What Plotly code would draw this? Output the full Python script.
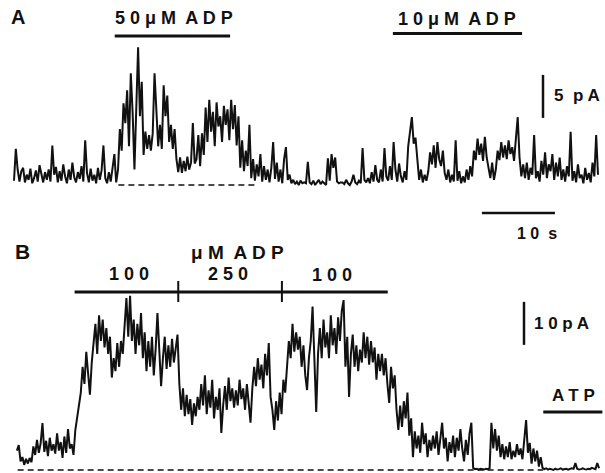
import numpy as np
import plotly.graph_objects as go

# ---------------- data ----------------
DT = 0.25            # s between samples
A_T0 = 0.0           # s, start of trace A
B_T0 = 0.4           # s, start of trace B

# Trace A current (pA), 50 uM ADP then 10 uM ADP
A_PA = [
    0.5, 4.2, 1.8, 0.4, 1.6, 2.0, 0.3, 1.2, 0.6, 1.9, 0.2, 0.8, 1.7, 0.4, 2.3, 1.1, 0.3, 1.5, 0.6, 1.8,
    0.4, 4.6, 1.2, 2.1, 0.3, 1.6, 0.5, 2.4, 1.0, 0.2, 1.8, 0.6, 2.6, 0.9, 0.3, 1.5, 0.7, 2.2, 0.4, 5.2,
    1.4, 0.3, 1.9, 0.5, 1.2, 0.2, 2.0, 0.6, 1.7, 4.6, 0.8, 0.2, 1.5, 0.4, 2.2, 3.6, 0.3, 1.8, 6.5, 4.0,
    9.5, 7.2, 11.0, 4.5, 13.0, 8.4, 1.8, 10.2, 16.0, 8.0, 12.0, 3.5, 6.2, 4.2, 5.8, 4.0, 6.0, 13.0, 9.0, 4.5,
    7.0, 4.2, 11.6, 8.0, 10.4, 5.0, 7.0, 4.2, 6.5, 3.0, 1.5, 3.2, 1.4, 2.8, 1.6, 3.3, 1.8, 2.6, 7.2, 2.5,
    3.0, 5.8, 2.2, 6.0, 3.5, 9.0, 5.0, 9.9, 6.2, 8.5, 4.5, 9.6, 6.8, 8.0, 5.0, 9.2, 7.0, 8.8, 5.2, 9.9,
    6.5, 9.3, 4.6, 8.0, 2.0, 5.2, 1.6, 4.0, 2.2, 7.0, 0.8, 3.0, 0.5, 2.4, 1.0, 3.6, 0.4, 2.2, 0.6, 1.8,
    0.3, 2.0, 5.0, 0.7, 2.6, 0.4, 1.8, 0.2, 3.0, 4.4, 0.6, 1.2, 0.2, 0.6, 0.1, 0.4, 0.0, 0.5, 0.2, 0.3,
    0.2, 2.7, 0.3, 0.1, 0.5, 0.0, 0.3, 0.6, 0.1, 0.4, 0.2, 0.0, 3.1, 0.5, 3.6, 2.0, 3.2, 0.4, 0.2, 0.3,
    0.3, 0.1, 0.6, 0.2, 0.0, 0.4, 1.2, 0.3, 0.1, 0.5, 0.2, 4.3, 0.6, 0.3, 0.8, 0.2, 1.5, 0.4, 2.3, 0.6,
    0.3, 1.8, 0.4, 4.3, 1.0, 0.5, 2.2, 0.6, 5.0, 1.8, 0.4, 2.5, 1.0, 0.3, 1.6, 0.6, 4.5, 6.0, 7.9, 4.8,
    5.5, 3.0, 0.6, 1.8, 0.3, 1.2, 0.5, 1.6, 3.8, 2.4, 4.6, 2.0, 5.0, 3.0, 2.2, 4.0, 1.4, 0.6, 1.8, 0.3,
    1.2, 0.4, 5.2, 0.5, 1.6, 0.2, 1.0, 0.3, 1.8, 0.6, 2.2, 1.0, 4.0, 2.9, 5.4, 3.5, 4.8, 2.8, 5.6, 3.2,
    2.0, 0.8, 2.6, 0.6, 1.8, 4.0, 2.9, 5.0, 3.2, 4.6, 3.0, 5.2, 3.6, 4.4, 2.8, 5.0, 7.9, 3.2, 1.0, 2.4,
    0.8, 2.6, 0.6, 2.0, 1.2, 5.8, 0.8, 1.6, 0.4, 2.8, 1.2, 3.8, 0.8, 2.4, 1.6, 3.6, 0.6, 2.6, 1.0, 3.2,
    0.6, 1.8, 0.4, 2.2, 1.0, 6.2, 0.5, 1.6, 0.3, 2.4, 0.8, 1.2, 0.2, 2.0, 0.6, 1.4, 0.3, 2.6, 1.0, 5.8, 1.2,
]

# Trace B current (pA), 100 / 250 / 100 uM ADP, then ATP
B_PA = [
    4.5, 5.8, 2.0, 3.0, 1.2, 2.6, 1.5, 2.8, 1.8, 5.5, 3.5, 7.0, 4.0, 6.2, 10.9, 4.2, 6.8, 3.2, 7.5, 4.5,
    6.0, 3.8, 8.5, 4.5, 6.5, 2.8, 7.8, 4.0, 9.5, 5.0, 6.0, 3.5, 9.3, 12.0, 14.7, 18.0, 24.0, 20.0, 27.5, 22.0,
    17.5, 25.0, 29.0, 34.0, 27.0, 36.0, 30.0, 35.0, 28.5, 33.0, 27.0, 31.0, 21.5, 26.0, 23.0, 29.5, 24.0, 30.0, 27.0, 34.0,
    40.0, 31.0, 40.5, 30.0, 35.0, 27.0, 34.0, 29.0, 36.5, 26.0, 32.0, 23.0, 30.0, 24.0, 31.0, 22.0, 28.0, 36.5, 27.0, 19.5,
    26.0, 31.0, 23.5, 29.0, 24.0, 30.5, 25.0, 28.0, 31.5, 20.0, 14.0, 19.0, 12.5, 17.5, 13.0, 16.5, 10.5, 15.5, 12.5, 17.0,
    14.0, 20.0, 15.0, 22.0, 13.0, 18.5, 14.5, 21.0, 12.0, 17.0, 14.0, 19.0, 8.6, 15.0, 19.5, 14.0, 21.5, 16.0, 19.0, 14.5,
    18.5, 15.0, 21.0, 16.5, 19.0, 14.0, 20.0, 15.5, 11.0, 19.0, 24.0, 19.5, 26.0, 21.0, 24.5, 19.0, 27.0, 22.0, 29.5, 17.0,
    14.0, 9.3, 16.0, 11.5, 18.0, 13.0, 21.0, 18.0, 25.0, 30.0, 26.0, 34.0, 27.5, 32.0, 28.0, 31.0, 24.0, 29.0, 22.0, 18.6,
    26.0, 30.0, 38.0, 24.0, 13.5, 27.0, 33.0, 26.0, 35.0, 28.5, 32.0, 26.0, 36.0, 29.0, 33.0, 27.0, 35.5, 30.0, 37.0, 39.5,
    24.0, 31.0, 17.0, 27.0, 31.5, 24.0, 29.0, 23.0, 28.0, 25.0, 32.0, 26.0, 31.0, 24.5, 30.0, 25.0, 28.5, 21.0, 27.0, 23.0,
    27.0, 22.0, 26.0, 20.0, 15.6, 24.0, 19.0, 22.0, 14.0, 9.3, 15.0, 10.0, 16.0, 12.0, 18.0, 8.0, 12.0, 3.0, 9.0, 5.0,
    8.0, 4.0, 11.0, 6.0, 8.5, 3.0, 7.0, 4.5, 8.0, 5.0, 9.0, 3.5, 7.0, 11.0, 5.0, 7.5, 2.0, 6.5, 4.0, 8.0,
    3.0, 7.5, 4.5, 9.5, 5.0, 2.0, 7.0, 3.5, 8.5, 11.0, 0.5, 0.2, 0.3, 0.1, 0.3, 0.2, 0.1, 0.3, 0.2, 0.4,
    11.0, 5.0, 9.5, 4.5, 8.0, 3.0, 6.0, 2.5, 5.5, 3.0, 6.5, 2.5, 4.5, 3.0, 6.0, 3.5, 5.0, 2.5, 7.5, 11.6,
    4.0, 6.3, 1.5, 5.0, 2.0, 4.5, 0.8, 3.0, 0.5, 0.2, 0.4, 0.1, 0.3, 0.2, 0.0, 0.3, 0.1, 0.2, 0.4, 0.1,
    0.2, 0.3, 0.1, 0.2, 0.4, 0.3, 1.6, 0.3, 0.1, 0.2, 0.4, 0.2, 0.1, 0.3, 0.2, 0.5, 0.3, 0.2, 1.6, 0.4,
]

# Solution applications (s)
A_APPS = [("50 μM ADP", 13.8, 29.6), ("10 μM ADP", 51.9, 69.6)]
B_APPS = [("100", 8.3, 22.5), ("250", 22.5, 36.7), ("100", 36.7, 51.2)]
ATP_APP = (72.5, 80.6)
A_DASH = (14.3, 33.0)     # zero-current reference, trace A
B_DASH = (0.5, 72.5)      # zero-current reference, trace B
SCALE_T = (64.1, 10.0)    # time bar start, length (s)
SCALE_A = (7.8, 5.0)      # pA bar start, length (A)
SCALE_B = (29.1, 10.0)    # pA bar start, length (B)

# ---------------- pixel calibration (layout only) ----------------
W, H = 605, 473
X0, PXS = 14.0, 7.3            # x px of t=0, px per second
A0, PXA = 185.0, 8.6           # y px of 0 pA (A), px per pA
B0, PXB = 470.0, 4.3           # y px of 0 pA (B), px per pA

def tx(px): return (px - X0) / PXS
def ya(py): return (A0 - py) / PXA
def yb(py): return (B0 - py) / PXB

tA = A_T0 + DT * np.arange(len(A_PA))
tB = B_T0 + DT * np.arange(len(B_PA))

fig = go.Figure()
fig.add_trace(go.Scatter(x=tA, y=A_PA, mode="lines", yaxis="y",
                         line=dict(color="#111", width=2.0), hoverinfo="skip"))
fig.add_trace(go.Scatter(x=tB, y=B_PA, mode="lines", yaxis="y2",
                         line=dict(color="#111", width=2.0), hoverinfo="skip"))

shapes = []
def line(x0, y0, x1, y1, yref, w=2.5, dash=None):
    shapes.append(dict(type="line", xref="x", yref=yref, x0=x0, y0=y0, x1=x1, y1=y1,
                       line=dict(color="#111", width=w, dash=dash)))

# zero-current dashed lines
line(A_DASH[0], 0, A_DASH[1], 0, "y", w=1.5, dash="6px,4px")
line(B_DASH[0], 0, B_DASH[1], 0, "y2", w=1.5, dash="6px,4px")
# application bars A
line(A_APPS[0][1], ya(36), A_APPS[0][2], ya(36), "y", w=3)
line(A_APPS[1][1], ya(33.5), A_APPS[1][2], ya(33.5), "y", w=3)
# application bar B with ticks
line(B_APPS[0][1], yb(292), B_APPS[-1][2], yb(292), "y2", w=3)
for _, s, e in B_APPS[1:]:
    line(s, yb(281), s, yb(302), "y2", w=2)
# ATP bar
line(ATP_APP[0], yb(412), ATP_APP[1], yb(412), "y2", w=3)
# scale bars
line(SCALE_T[0], ya(213), SCALE_T[0] + SCALE_T[1], ya(213), "y", w=2.5)
line(tx(543), SCALE_A[0], tx(543), SCALE_A[0] + SCALE_A[1], "y", w=2.5)
line(tx(524), SCALE_B[0], tx(524), SCALE_B[0] + SCALE_B[1], "y2", w=2.5)

FONT = "Liberation Sans, Arial, sans-serif"
anns = []
def text(s, px, py, size=17, anchor="center"):
    anns.append(dict(text=s, x=px / W, y=1 - py / H, xref="paper", yref="paper",
                     xanchor=anchor, yanchor="middle", showarrow=False,
                     font=dict(family=FONT, size=size, color="#111", weight=700)))

text("A", 18, 17, size=20)
text("5 0 μ M  A D P", 174, 18, size=18)
text("1 0 μ M  A D P", 457, 19, size=18)
text("5  p A", 552, 95, size=17, anchor="left")
text("1 0  s", 537, 233, size=16)
text("B", 22, 251, size=21)
text("μ M  A D P", 237, 253, size=19)
text("1 0 0", 129, 274, size=18)
text("2 5 0", 228, 274, size=18)
text("1 0 0", 332, 275, size=18)
text("1 0 p A", 532, 323, size=17, anchor="left")
text("A T P", 573, 395, size=17)

fig.update_layout(
    width=W, height=H, autosize=False,
    margin=dict(l=0, r=0, t=0, b=0, pad=0),
    paper_bgcolor="white", plot_bgcolor="white",
    showlegend=False,
    xaxis=dict(range=[tx(0), tx(W)], visible=False, fixedrange=True),
    yaxis=dict(range=[ya(H), ya(0)], visible=False, fixedrange=True),
    yaxis2=dict(range=[yb(H), yb(0)], visible=False, overlaying="y", fixedrange=True),
    shapes=shapes, annotations=anns,
)

fig.write_html("out.html", config={"displayModeBar": False},
               post_script="document.body.style.margin='0';document.body.style.overflow='hidden';")
